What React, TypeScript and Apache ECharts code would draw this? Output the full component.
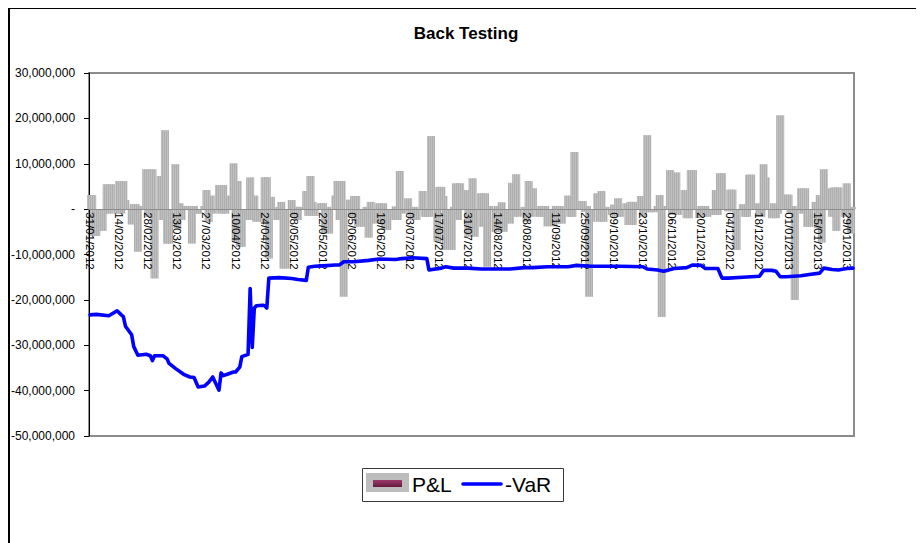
import React, { useEffect, useRef } from "react";
import * as echarts from "echarts";

const FONT = "'Liberation Sans', Arial, Helvetica, sans-serif";

// Reporting window (business days only)
const START_DATE = "31/01/2012";
const END_DATE = "01/02/2013";

// Fortnightly date labels on the category axis
const tickDates = [
  "31/01/2012", "14/02/2012", "28/02/2012", "13/03/2012", "27/03/2012", "10/04/2012",
  "24/04/2012", "08/05/2012", "22/05/2012", "05/06/2012", "19/06/2012", "03/07/2012",
  "17/07/2012", "31/07/2012", "14/08/2012", "28/08/2012", "11/09/2012", "25/09/2012",
  "09/10/2012", "23/10/2012", "06/11/2012", "20/11/2012", "04/12/2012", "18/12/2012",
  "01/01/2013", "15/01/2013", "29/01/2013",
];

// Daily P&L in millions, one row per week (Mon..Fri)
const pnlMillions = [
  3.1, 3.1, -5.9, -5.9,
  -4.8, -1.0, 5.5, -1.0, 5.5,
  -1.0, 6.2, -1.0, 6.2, 2.0,
  -3.4, 1.1, 1.1, -9.4, 0.7,
  8.8, -1.7, -1.7, 8.8, -15.3,
  7.3, -2.4, 17.4, -7.6, -7.6,
  9.9, -4.3, 1.3, -2.4, 0.7,
  0.7, -7.6, 0.7, -1.0, -1.0,
  0.7, 4.2, -2.8, 3.0, -1.0,
  5.3, -1.0, 5.3, -1.0, 3.0,
  10.1, -7.2, 6.2, -8.3, -8.3,
  -2.4, 7.0, -2.4, 3.0, -2.8,
  -2.8, 7.0, 7.0, -10.9, 2.7,
  -2.4, 0.5, 1.6, -13.1, -13.1,
  2.0, -1.7, 0.5, -2.4, 0.5,
  4.0, -1.5, 7.3, 1.6, -1.5,
  1.3, 1.3, -5.4, 0.5, -5.4,
  3.0, 6.2, -2.4, 6.2, -19.3,
  2.1, -1.7, 2.9, 2.9, -3.9,
  -3.9, 0.5, -6.3, 1.6, -3.2,
  1.3, -3.2, 1.3, -4.6, -4.6,
  -2.4, 0.6, -2.4, 8.4, -1.0,
  2.4, -1.0, -2.4, 0.5, -2.4,
  4.0, -1.7, -1.7, -1.7, 16.1,
  -7.2, 4.9, 4.9, 2.9, -9.0,
  -9.0, 0.5, 5.7, -2.4, 5.7,
  4.2, -6.1, 4.2, 6.8, -6.1,
  3.5, -3.9, 3.5, -12.7, 0.7,
  -5.0, 0.7, -5.0, 1.5, -5.0,
  -3.2, 5.8, -1.7, 7.7, -1.7,
  0.5, -2.8, 6.2, -1.7, 4.6,
  -1.7, 0.7, -1.7, 0.7, -3.8,
  -3.8, 0.7, -3.2, 0.7, -3.2,
  3.0, -1.7, -1.7, 12.6, 1.8,
  1.8, -0.6, 0.7, -19.3, -2.8,
  3.5, -2.8, 4.0, -2.8, 0.5,
  -1.3, 1.0, -1.7, 2.4, -1.7,
  1.3, -3.5, 1.6, -3.5, 1.6,
  2.9, -1.7, -0.7, 16.3, -0.7,
  -0.7, 0.7, 3.1, -23.8, 0.7,
  8.6, -1.3, -1.3, 8.1, -1.3,
  4.2, -2.0, -2.0, 8.6, 8.6,
  -2.0, 0.7, -1.7, 0.7, -1.7,
  -1.3, 4.2, -1.3, 7.9, 7.9,
  -0.5, 4.3, 4.3, -0.5, -9.0,
  1.1, -1.7, -1.7, 7.6, 7.6,
  1.3, -1.7, -1.7, 9.9, 7.0,
  -2.0, 1.3, -2.0, -1.0, 20.7,
  3.2, 3.2, -1.0, 0.7, -20.0,
  4.6, -1.0, 4.6, -3.9, -3.9,
  1.6, -4.2, 3.1, -7.4, 8.8,
  4.6, -1.7, 4.8, -4.8, 4.8,
  -1.7, 5.7, 0.5, -5.4, 0.5,
];

// Negative VaR (millions) on the dates where it was recorded
const varDates = [
  "31/01/2012", "03/02/2012", "09/02/2012", "13/02/2012", "15/02/2012", "16/02/2012",
  "17/02/2012", "20/02/2012", "21/02/2012", "23/02/2012", "27/02/2012", "29/02/2012",
  "01/03/2012", "02/03/2012", "06/03/2012", "08/03/2012", "09/03/2012", "12/03/2012",
  "16/03/2012", "19/03/2012", "21/03/2012", "23/03/2012", "26/03/2012", "28/03/2012",
  "30/03/2012", "02/04/2012", "03/04/2012", "04/04/2012", "06/04/2012", "09/04/2012",
  "10/04/2012", "12/04/2012", "13/04/2012", "16/04/2012", "17/04/2012", "18/04/2012",
  "19/04/2012", "20/04/2012", "23/04/2012", "24/04/2012", "25/04/2012", "26/04/2012",
  "01/05/2012", "07/05/2012", "10/05/2012", "14/05/2012", "15/05/2012", "18/05/2012",
  "22/05/2012", "28/05/2012", "30/05/2012", "01/06/2012", "06/06/2012", "13/06/2012",
  "18/06/2012", "26/06/2012", "29/06/2012", "04/07/2012", "11/07/2012", "12/07/2012",
  "18/07/2012", "20/07/2012", "24/07/2012", "31/07/2012", "06/08/2012", "13/08/2012",
  "20/08/2012", "27/08/2012", "31/08/2012", "07/09/2012", "17/09/2012", "21/09/2012",
  "28/09/2012", "12/10/2012", "23/10/2012", "25/10/2012", "30/10/2012", "02/11/2012",
  "07/11/2012", "13/11/2012", "16/11/2012", "20/11/2012", "22/11/2012", "28/11/2012",
  "30/11/2012", "03/12/2012", "10/12/2012", "14/12/2012", "18/12/2012", "20/12/2012",
  "24/12/2012", "26/12/2012", "28/12/2012", "31/12/2012", "07/01/2013", "11/01/2013",
  "16/01/2013", "18/01/2013", "22/01/2013", "25/01/2013", "29/01/2013", "01/02/2013",
];
const varMillions = [
  -23.3, -23.2, -23.5, -22.4, -23.3, -23.7,
  -25.8, -27.7, -30.3, -32.2, -32.0, -32.3,
  -33.4, -32.3, -32.3, -33.0, -34.0, -35.1,
  -36.4, -37.0, -37.1, -39.2, -39.0, -38.2,
  -37.0, -39.9, -36.1, -36.7, -36.4, -35.9,
  -35.9, -34.8, -32.5, -32.0, -17.5, -30.5,
  -21.8, -21.3, -21.2, -21.3, -21.8, -15.2,
  -15.1, -15.3, -15.5, -15.7, -12.8, -12.6,
  -12.5, -12.3, -12.3, -11.6, -11.6, -11.3,
  -11.0, -11.1, -10.9, -10.7, -10.9, -13.4,
  -13.0, -12.7, -13.0, -13.0, -13.2, -13.2,
  -13.2, -12.9, -12.9, -12.7, -12.7, -12.4,
  -12.6, -12.6, -12.7, -13.2, -13.4, -13.7,
  -13.1, -12.9, -12.3, -12.4, -13.1, -13.1,
  -15.2, -15.2, -15.0, -14.9, -14.8, -13.5,
  -13.5, -13.7, -14.9, -14.9, -14.7, -14.4,
  -14.1, -13.0, -13.3, -13.4, -13.1, -13.0,
];

const Y_MIN = -50000000;
const Y_MAX = 30000000;
const Y_STEP = 10000000;

const DAY = 86400000;

// plot box inside the chart element
const GRID = { left: 78, top: 65, width: 768, height: 363 };

function parseDate(s: string): number {
  const [d, m, y] = s.split("/").map(Number);
  return new Date(y, m - 1, d).getTime();
}

function pad2(n: number): string {
  return n < 10 ? "0" + n : String(n);
}

function formatDate(t: number): string {
  const dt = new Date(t);
  return pad2(dt.getDate()) + "/" + pad2(dt.getMonth() + 1) + "/" + dt.getFullYear();
}

function businessDays(from: string, to: string): number[] {
  const out: number[] = [];
  const end = parseDate(to);
  const cur = new Date(parseDate(from));
  while (cur.getTime() <= end) {
    const wd = cur.getDay();
    if (wd !== 0 && wd !== 6) out.push(cur.getTime());
    cur.setDate(cur.getDate() + 1);
  }
  return out;
}

function formatAmount(v: number): string {
  if (v === 0) return "-";
  const s = Math.abs(Math.round(v))
    .toString()
    .replace(/\B(?=(\d{3})+(?!\d))/g, ",");
  return (v < 0 ? "-" : "") + s;
}

export default function App() {
  const ref = useRef<HTMLDivElement | null>(null);

  useEffect(() => {
    if (!ref.current) return;
    const chart = echarts.init(ref.current, undefined, { renderer: "svg" });

    const days = businessDays(START_DATE, END_DATE);
    const pnlData = days
      .slice(0, pnlMillions.length)
      .map((t, i) => [t, pnlMillions[i] * 1e6]);
    const n = Math.min(varDates.length, varMillions.length);
    const varData: [number, number][] = [];
    for (let i = 0; i < n; i++) varData.push([parseDate(varDates[i]), varMillions[i] * 1e6]);

    const axisMin = parseDate(START_DATE) - DAY / 2;
    const axisMax = parseDate(END_DATE) + DAY / 2;

    // the date axis crosses the value axis at zero
    const zeroOffset = -GRID.height * (0 - Y_MIN) / (Y_MAX - Y_MIN);

    chart.setOption({
      animation: false,
      backgroundColor: "#ffffff",
      textStyle: { fontFamily: FONT },
      title: {
        text: "Back Testing",
        left: "center",
        top: 17,
        padding: 0,
        textStyle: { fontFamily: FONT, fontSize: 17, fontWeight: "bold", color: "#000" },
      },
      grid: {
        ...GRID,
        show: true,
        borderColor: "#8c8c8c",
        borderWidth: 2,
        backgroundColor: "transparent",
      },
      xAxis: {
        // dates as millisecond timestamps on a linear scale
        type: "value",
        min: axisMin,
        max: axisMax,
        position: "bottom",
        offset: zeroOffset,
        z: 10,
        axisLine: { onZero: false, lineStyle: { color: "#8c8c8c", width: 1 } },
        axisTick: { show: false },
        splitLine: { show: false },
        axisLabel: {
          customValues: tickDates.map(parseDate),
          formatter: (v: number) => formatDate(v),
          rotate: -90,
          margin: 3,
          fontFamily: FONT,
          fontSize: 11.5,
          color: "#000",
          hideOverlap: false,
        },
      },
      yAxis: {
        type: "value",
        min: Y_MIN,
        max: Y_MAX,
        interval: Y_STEP,
        axisLine: { show: true, onZero: false, lineStyle: { color: "#000", width: 1 } },
        axisTick: { show: true, length: 5, lineStyle: { color: "#000" } },
        splitLine: { show: false },
        axisLabel: {
          formatter: (v: number) => formatAmount(v),
          margin: 14,
          fontFamily: FONT,
          fontSize: 12,
          color: "#000",
        },
      },
      series: [
        {
          name: "P&L",
          type: "bar",
          barWidth: 8,
          z: 2,
          itemStyle: {
            color: "#c0c0c0",
            decal: {
              symbol: "rect",
              symbolSize: 1,
              color: "rgba(110,110,110,0.22)",
              dashArrayX: [1, 1],
              dashArrayY: [10, 0],
              rotation: 0,
            },
          },
          data: pnlData,
        },
        {
          name: "-VaR",
          type: "line",
          z: 12,
          symbol: "none",
          showSymbol: false,
          lineStyle: { color: "#0000ff", width: 3.6, join: "round", cap: "round" },
          itemStyle: { color: "#0000ff" },
          data: varData,
        },
      ],
      graphic: [
        // chart area frame
        {
          type: "rect",
          silent: true,
          shape: { x: 1, y: 0, width: 3000, height: 3000 },
          style: { fill: "none", stroke: "#000", lineWidth: 2 },
        },
        // legend
        {
          type: "group",
          left: 354,
          top: 460,
          silent: true,
          children: [
            {
              type: "rect",
              shape: { x: 0.5, y: 0.5, width: 201, height: 33 },
              style: { fill: "#fff", stroke: "#3a3a3a", lineWidth: 1 },
            },
            {
              type: "rect",
              shape: { x: 4, y: 5, width: 43, height: 19 },
              style: { fill: "#bdbdbd" },
            },
            {
              type: "rect",
              shape: { x: 11, y: 12, width: 29, height: 7 },
              style: {
                fill: new echarts.graphic.LinearGradient(0, 0, 0, 1, [
                  { offset: 0, color: "#9b3a6c" },
                  { offset: 1, color: "#651a3f" },
                ]),
              },
            },
            {
              type: "text",
              style: {
                x: 50,
                y: 16.5,
                text: "P&L",
                fontFamily: FONT,
                fontSize: 21,
                fill: "#000",
                verticalAlign: "middle",
              },
            },
            {
              type: "line",
              shape: { x1: 101, y1: 16, x2: 139, y2: 16 },
              style: { stroke: "#0000ff", lineWidth: 3.6, lineCap: "round" },
            },
            {
              type: "text",
              style: {
                x: 143,
                y: 16.5,
                text: "-VaR",
                fontFamily: FONT,
                fontSize: 21,
                fill: "#000",
                verticalAlign: "middle",
              },
            },
          ],
        },
      ],
    });

    return () => chart.dispose();
  }, []);

  return (
    <div style={{ width: 916, height: 535 }}>
      <div ref={ref} style={{ width: 916, height: 535 }} />
    </div>
  );
}
